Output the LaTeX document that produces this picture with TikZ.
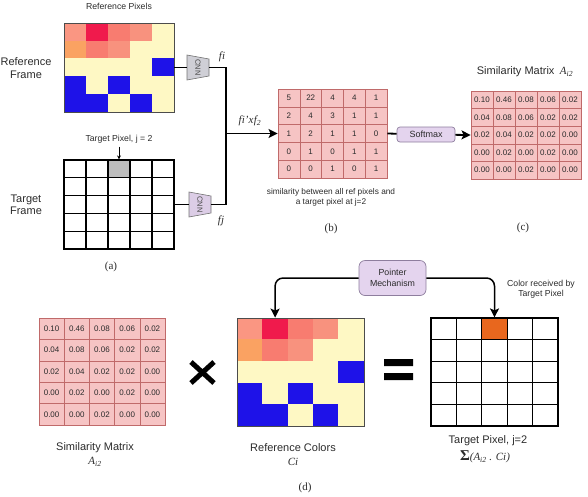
\documentclass[tikz,border=0pt]{standalone}
\usepackage{fontspec}
\setmainfont{Liberation Serif}
\setsansfont{Liberation Sans}
\usetikzlibrary{positioning,arrows.meta}
\definecolor{pxsalmon}{HTML}{FA9682}
\definecolor{pxcrimson}{HTML}{F01A4C}
\definecolor{pxcoral}{HTML}{F87C70}
\definecolor{pxrose}{HTML}{F8927E}
\definecolor{pxorange}{HTML}{FAA262}
\definecolor{pxcream}{HTML}{FEF8C4}
\definecolor{pxblue}{HTML}{1E12E8}
\definecolor{simfill}{HTML}{F6C4C4}
\definecolor{simline}{HTML}{C06A6A}
\definecolor{boxfill}{HTML}{E4D4EE}
\definecolor{boxline}{HTML}{8E7E9E}
\definecolor{cnngray}{HTML}{CFCFD6}
\definecolor{cnnlav}{HTML}{DCCDE6}
\definecolor{tgtgray}{HTML}{BDBDBD}
\definecolor{tgtorange}{HTML}{E8671E}
\definecolor{ink}{HTML}{2B2B2B}

% colour grid of the reference frame: name, left, top, cell width, cell height
\newcommand{\pixgrid}[5]{%
  \foreach \prow [count=\ri] in {{pxsalmon,pxcrimson,pxcoral,pxrose,pxcream},
      {pxorange,pxcoral,pxrose,pxcream,pxcream},
      {pxcream,pxcream,pxcream,pxcream,pxblue},
      {pxblue,pxcream,pxblue,pxcream,pxcream},
      {pxblue,pxblue,pxcream,pxblue,pxcream}}
    \foreach \pcol [count=\ci] in \prow
      \node[pix, fill=\pcol, minimum width=#4pt+0.4pt, minimum height=#5pt+0.4pt]
        (#1-\ri-\ci) at ({#2+#4*(\ci-0.5)},{#3+#5*(\ri-0.5)}) {};
  \node[frame, minimum width=5*#4pt, minimum height=5*#5pt] (#1) at ({#2+2.5*#4},{#3+2.5*#5}) {};
}
% numbered grid: name, left, top, cell width, cell height, rows
\newcommand{\numgrid}[6]{%
  \foreach \nrow [count=\ri] in {#6}
    \foreach \val [count=\ci] in \nrow
      \node[num, minimum width=#4pt, minimum height=#5pt]
        (#1-\ri-\ci) at ({#2+#4*(\ci-0.5)},{#3+#5*(\ri-0.5)}) {\val};
  \node[numframe, minimum width=5*#4pt, minimum height=5*#5pt] (#1) at ({#2+2.5*#4},{#3+2.5*#5}) {};
}
% empty target grid, pixel j=2 marked: name, left, top, cell width, cell height, colour
\newcommand{\tgtgrid}[6]{%
  \foreach \ri in {1,...,5}
    \foreach \ci in {1,...,5}
      \node[tcell, minimum width=#4pt, minimum height=#5pt]
        (#1-\ri-\ci) at ({#2+#4*(\ci-0.5)},{#3+#5*(\ri-0.5)}) {};
  \node[tcell, fill=#6, minimum width=#4pt, minimum height=#5pt] (#1-1-3) at ({#2+2.5*#4},{#3+0.5*#5}) {};
  \node[tframe, minimum width=5*#4pt, minimum height=5*#5pt] (#1) at ({#2+2.5*#4},{#3+2.5*#5}) {};
}
% encoder block: name, x, y, fill
\newcommand{\cnnblock}[4]{%
  \filldraw[draw=black!55, line width=0.6pt, fill=#4]
    (#2-11,#3-12.5) -- (#2+11,#3-8.5) -- (#2+11,#3+8.5) -- (#2-11,#3+12.5) -- cycle;
  \node[cnn] (#1) at (#2,#3) {CNN};
}

\begin{document}
\begin{tikzpicture}[x=1pt, y=-1pt,
  pix/.style={rectangle, inner sep=0pt, draw=none},
  frame/.style={rectangle, draw=black!70, line width=0.8pt, inner sep=0pt},
  num/.style={rectangle, draw=simline, line width=0.6pt, fill=simfill, inner sep=0pt, text=ink, font=\sffamily\fontsize{8}{8}\selectfont},
  numframe/.style={rectangle, draw=simline, line width=0.9pt, inner sep=0pt},
  tcell/.style={rectangle, draw=black, line width=1.2pt, fill=white, inner sep=0pt},
  tframe/.style={rectangle, draw=black, line width=1.3pt, inner sep=0pt},
  cnn/.style={rectangle, rotate=-90, minimum width=25pt, minimum height=22pt, inner sep=0pt, text=black!70, font=\sffamily\fontsize{7.5}{7.5}\selectfont},
  opbox/.style={rectangle, rounded corners=3pt, draw=boxline, line width=0.7pt, fill=boxfill, text=ink, align=center},
  wire/.style={line width=1.8pt},
  arr/.style={wire, -{Stealth[length=9pt, width=9pt, inset=2pt]}},
  thinarr/.style={line width=0.7pt, -{Stealth[length=4pt, width=4pt]}},
  lbl/.style={font=\sffamily\fontsize{11}{12.5}\selectfont, text=ink, align=center},
  note/.style={font=\sffamily\fontsize{8.7}{10}\selectfont, text=ink, align=center},
  sym/.style={font=\rmfamily\itshape\fontsize{11}{12}\selectfont, text=ink},
  tag/.style={font=\rmfamily\fontsize{11}{12}\selectfont, text=ink}
]
\useasboundingbox (0,0) rectangle (588,496);

% (a) frames and encoders
\pixgrid{ref}{64}{23}{22}{17.8}
\tgtgrid{tgt}{64}{160}{22}{17.8}{tgtgray}
\node[note] (refpx) at (119,6) {Reference Pixels};
\node[lbl] (reflbl) at (26,68) {Reference\\Frame};
\node[lbl] (tgtlbl) at (26,205) {Target\\Frame};
\node[note] (tpx) at (119,139) {Target Pixel, j = 2};
\draw[thinarr] (tpx) -- (tgt-1-3.north);
\cnnblock{cnnA}{198}{67.5}{cnngray}
\cnnblock{cnnB}{200}{204.5}{cnnlav}
\node[sym] (fi) at (222,57) {f\kern0pt i};
\node[sym] (fj) at (221,221) {f\kern0pt j};
\node[tag] (taga) at (111,267) {(a)};

% (b) similarity of all ref pixels to pixel j
\coordinate (join) at (226,133.5);
\draw[wire] (ref.east) -- (cnnA);
\draw[wire] (tgt.east) -- (cnnB);
\draw[wire] (cnnA) -| (join) |- (cnnB);
\numgrid{simb}{278}{89}{21.8}{17.8}{{5,22,4,4,1},{2,4,3,1,1},{1,2,1,1,0},{0,1,0,1,1},{0,0,1,0,1}}
\draw[arr] (join) -- (simb.west);
\node[sym] (fprod) at (250,121) {f\kern0pt i'x\kern0.5pt f\textsubscript{2}};
\node[note, font=\sffamily\fontsize{8.3}{10}\selectfont] (simnote) at (331,197) {similarity between all ref pixels and\\a target pixel at j=2};
\node[tag] (tagb) at (331,229) {(b)};
\node[opbox, minimum width=58pt, minimum height=15pt, font=\sffamily\fontsize{9}{10}\selectfont] (softmax) at (426,134.5) {Softmax};
\draw[wire] (simb.east) -- (softmax);

% (c) softmax output
\numgrid{simc}{471}{91}{22}{17.6}{{0.10,0.46,0.08,0.06,0.02},{0.04,0.08,0.06,0.02,0.02},{0.02,0.04,0.02,0.02,0.00},{0.00,0.02,0.00,0.02,0.00},{0.00,0.00,0.02,0.00,0.00}}
\draw[arr] (softmax) -- (simc.west);
\node[lbl] (simctitle) at (525,72) {Similarity Matrix\enspace{\rmfamily\itshape A\textsubscript{i2}}};
\node[tag] (tagc) at (523,228) {(c)};

% (d) colour transfer
\numgrid{sima}{39}{318}{25.2}{21.4}{{0.10,0.46,0.08,0.06,0.02},{0.04,0.08,0.06,0.02,0.02},{0.02,0.04,0.02,0.02,0.00},{0.00,0.02,0.00,0.02,0.00},{0.00,0.00,0.02,0.00,0.00}}
\pixgrid{rc}{237}{318}{25.4}{21.6}
\tgtgrid{tg}{431}{318}{25.4}{21.6}{tgtorange}
\node[lbl] (simalbl) at (95,448) {Similarity Matrix};
\node[sym] (simasym) at (95,462) {A\textsubscript{i2}};
\node[lbl] (rclbl) at (293,448) {Reference Colors};
\node[sym] (rcsym) at (293,462) {Ci};
\node[lbl] (tglbl) at (488,441) {Target Pixel, j=2};
\node[sym] (tgsym) at (485,457) {{\upshape\bfseries\fontsize{15}{15}\selectfont Σ}(A\textsubscript{i2} . Ci)};
\node[note] (recv) at (541,289) {Color received by\\Target Pixel};
\node[opbox, rounded corners=6pt, minimum width=67pt, minimum height=35pt, font=\sffamily\fontsize{8.8}{10.5}\selectfont] (pointer) at (392.5,278) {Pointer\\Mechanism};
\draw[arr, line width=1.5pt, rounded corners=8pt] (pointer.west) -| (rc-1-2.north);
\draw[arr, line width=1.5pt, rounded corners=8pt] (pointer.east) -| (tg-1-3.north);
\draw[line width=5pt] (191,362) -- (214,383) (214,362) -- (191,383);
\fill (384,359) rectangle (413,366) (384,373) rectangle (413,380);
\node[tag, anchor=south] (tagd) at (305,496) {(d)};
\end{tikzpicture}
\end{document}
